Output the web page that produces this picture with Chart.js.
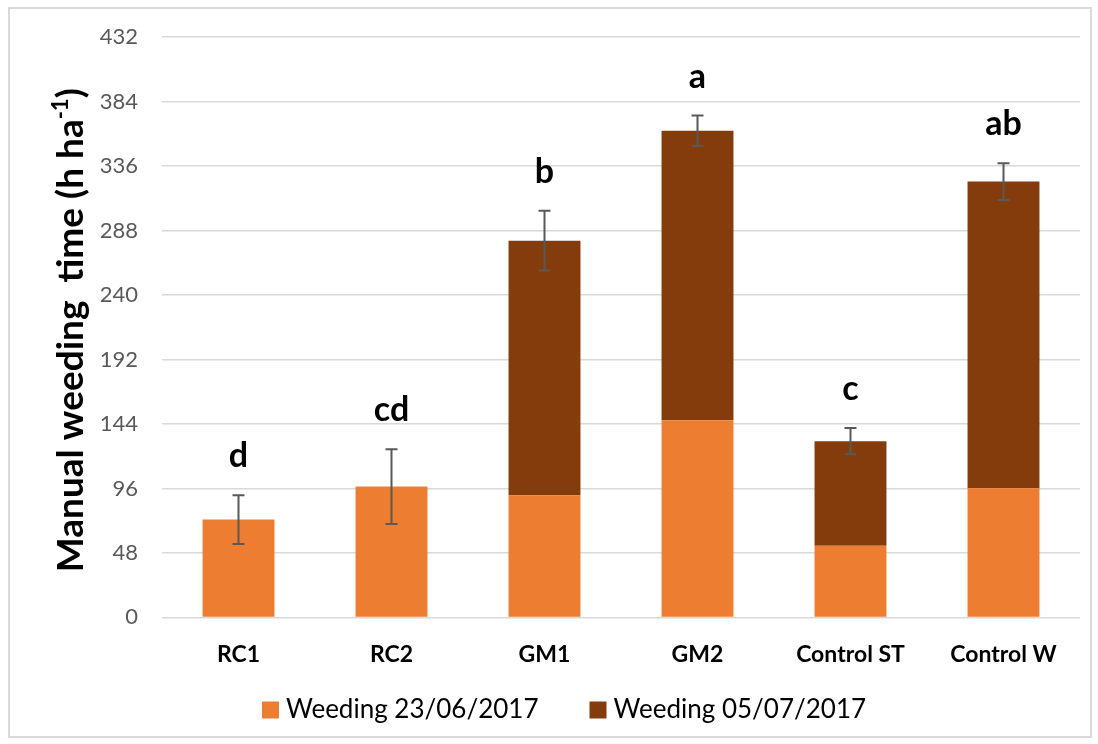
<!DOCTYPE html>
<html>
<head>
<meta charset="utf-8">
<script src="https://cdn.jsdelivr.net/npm/chart.js@4.4.0/dist/chart.umd.min.js"></script>
<style>
  html, body { margin: 0; padding: 0; background: #fff; }
  #frame {
    position: absolute; left: 8px; top: 7px; width: 1084px; height: 731px;
    border: 2px solid #d9d9d9; box-sizing: border-box; background: #fff;
  }
  #frame canvas { display: block; }
</style>
</head>
<body>
<div id="frame"><canvas id="c"></canvas></div>
<script>
// Treatments and weeding times (h ha-1)
const categories = ['RC1', 'RC2', 'GM1', 'GM2', 'Control ST', 'Control W'];
const weeding1 = [72.8, 97.4, 90.9, 146.8, 53.4, 96.1];     // Weeding 23/06/2017
const weeding2 = [0, 0, 189.5, 215.4, 77.8, 228.3];         // Weeding 05/07/2017
const errors = [18.1, 27.8, 22.2, 11.3, 9.7, 13.7];          // error on total time
const letters = ['d', 'cd', 'b', 'a', 'c', 'ab'];             // significance groups
const yTicks = [0, 48, 96, 144, 192, 240, 288, 336, 384, 432];
const seriesNames = ['Weeding 23/06/2017', 'Weeding 05/07/2017'];

const ORANGE = '#ED7D31';
const BROWN = '#843C0C';
const GRID = '#d9d9d9';
const FONT = 'Lato, "Open Sans", sans-serif';

// Error bars on the stacked total, plus the group letters above them
const errorBarPlugin = {
  id: 'errorBars',
  afterDatasetsDraw(chart) {
    const ctx = chart.ctx;
    const x = chart.scales.x, y = chart.scales.y;
    ctx.save();
    categories.forEach((cat, i) => {
      const total = weeding1[i] + weeding2[i];
      const px = x.getPixelForValue(i);
      const top = y.getPixelForValue(total + errors[i]);
      const bot = y.getPixelForValue(total - errors[i]);
      ctx.strokeStyle = '#595959';
      ctx.lineWidth = 2;
      ctx.beginPath();
      ctx.moveTo(px, top); ctx.lineTo(px, bot);
      ctx.moveTo(px - 6, top); ctx.lineTo(px + 6, top);
      ctx.moveTo(px - 6, bot); ctx.lineTo(px + 6, bot);
      ctx.stroke();
      ctx.fillStyle = '#000';
      ctx.font = 'bold 34px ' + FONT;
      ctx.textAlign = 'center';
      ctx.textBaseline = 'alphabetic';
      ctx.fillText(letters[i], px, top - 28);
    });
    ctx.restore();
  }
};

// Rotated y-axis title with a superscript exponent
const yTitlePlugin = {
  id: 'yTitle',
  afterDraw(chart) {
    const ctx = chart.ctx, a = chart.chartArea;
    const main = 'Manual weeding  time (h ha', sup = '-1', close = ')';
    ctx.save();
    ctx.translate(73, (a.top + a.bottom) / 2 + 3);
    ctx.rotate(-Math.PI / 2);
    ctx.fillStyle = '#000';
    ctx.textBaseline = 'alphabetic';
    ctx.textAlign = 'left';
    ctx.font = 'bold 37px ' + FONT;
    const w1 = ctx.measureText(main).width, w3 = ctx.measureText(close).width;
    ctx.font = 'bold 22px ' + FONT;
    const w2 = ctx.measureText(sup).width;
    let x0 = -(w1 + w2 + w3) / 2;
    ctx.font = 'bold 37px ' + FONT;
    ctx.fillText(main, x0, 0);
    ctx.font = 'bold 22px ' + FONT;
    ctx.fillText(sup, x0 + w1, -15);
    ctx.font = 'bold 37px ' + FONT;
    ctx.fillText(close, x0 + w1 + w2, 0);
    ctx.restore();
  }
};

// Legend row under the category labels
const legendPlugin = {
  id: 'bottomLegend',
  afterDraw(chart) {
    const ctx = chart.ctx;
    const box = 17, gap = 7, spacing = 51;
    ctx.save();
    ctx.font = '26px ' + FONT;
    ctx.textBaseline = 'middle';
    ctx.textAlign = 'left';
    const items = chart.data.datasets.map(ds => ({
      text: ds.label, color: ds.backgroundColor, w: ctx.measureText(ds.label).width
    }));
    const total = items.reduce((s, it) => s + box + gap + it.w, 0) + spacing * (items.length - 1);
    let x = chart.width / 2 + 14 - total / 2;
    const cy = chart.height - 26;
    items.forEach(it => {
      ctx.fillStyle = it.color;
      ctx.fillRect(x, cy - box / 2, box, box);
      ctx.fillStyle = '#000';
      ctx.fillText(it.text, x + box + gap, cy);
      x += box + gap + it.w + spacing;
    });
    ctx.restore();
  }
};

new Chart(document.getElementById('c'), {
  type: 'bar',
  data: {
    labels: categories,
    datasets: [
      { label: seriesNames[0], data: weeding1, backgroundColor: ORANGE,
        categoryPercentage: 1, barPercentage: 0.47 },
      { label: seriesNames[1], data: weeding2, backgroundColor: BROWN,
        categoryPercentage: 1, barPercentage: 0.47 }
    ]
  },
  options: {
    responsive: true,
    maintainAspectRatio: false,
    animation: false,
    layout: { padding: { top: 28, right: 10, bottom: 53, left: 0 } },
    plugins: {
      tooltip: { enabled: false },
      legend: { display: false }
    },
    scales: {
      x: {
        stacked: true,
        grid: { display: false },
        border: { display: false },
        ticks: {
          color: '#000', padding: 15,
          font: { family: FONT, size: 23, weight: 'bold' }
        }
      },
      y: {
        stacked: true,
        min: 0, max: 432,
        afterBuildTicks(scale) { scale.ticks = yTicks.map(v => ({ value: v })); },
        afterFit(scale) {
          scale.width = 152;
          scale.paddingTop = 0;
          scale.paddingBottom = 0;
        },
        grid: { color: GRID, lineWidth: 1.5, drawTicks: false },
        border: { display: false },
        ticks: {
          color: '#595959', padding: 24,
          font: { family: FONT, size: 22 }
        }
      }
    }
  },
  plugins: [errorBarPlugin, yTitlePlugin, legendPlugin]
});
</script>
</body>
</html>
